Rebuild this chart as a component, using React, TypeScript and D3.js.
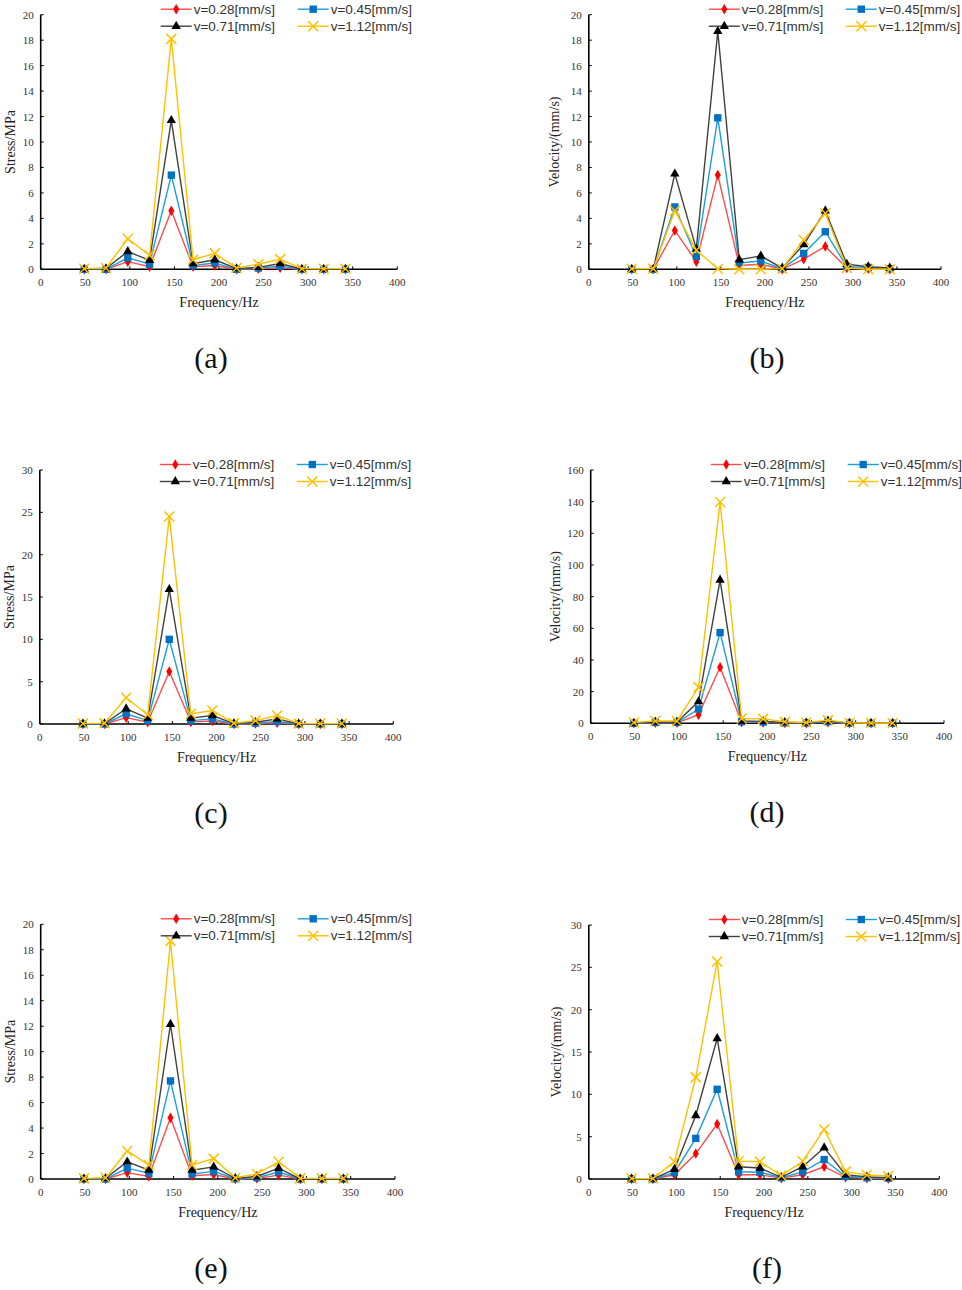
import React, { useEffect, useRef } from 'react';
import * as d3 from 'd3';

// spectrum bins (Hz)
const frequencies: number[] = [48.8, 73.2, 97.7, 122.1, 146.5, 170.9, 195.3, 219.7, 244.1, 268.6, 293.0, 317.4, 341.8];
const seriesLabels: string[] = ['v=0.28[mm/s]', 'v=0.45[mm/s]', 'v=0.71[mm/s]', 'v=1.12[mm/s]'];
const xTicks: number[] = [0, 50, 100, 150, 200, 250, 300, 350, 400];

// (a) stress
const a028 = [0, 0, 0.6, 0.2, 4.6, 0.2, 0.3, 0, 0.05, 0.12, 0, 0, 0];
const a045 = [0, 0, 0.9, 0.4, 7.4, 0.3, 0.5, 0, 0.1, 0.25, 0, 0, 0];
const a071 = [0, 0.05, 1.4, 0.7, 11.7, 0.45, 0.75, 0.05, 0.15, 0.45, 0, 0, 0];
const a112 = [0.05, 0.1, 2.4, 1.1, 18.1, 0.75, 1.25, 0.1, 0.4, 0.8, 0.05, 0.05, 0.05];

// (b) velocity
const b028 = [0, 0, 3.05, 0.6, 7.4, 0.3, 0.4, 0, 0.8, 1.8, 0.1, 0.05, 0];
const b045 = [0, 0, 4.9, 1.0, 11.9, 0.5, 0.65, 0.05, 1.25, 2.95, 0.2, 0.15, 0.05];
const b071 = [0, 0, 7.5, 1.6, 18.7, 0.75, 1.05, 0.1, 1.95, 4.6, 0.4, 0.2, 0.1];
const b112 = [0.05, 0.05, 4.6, 1.5, 0.05, 0, 0, 0.05, 2.3, 4.4, 0.1, 0, 0];

// (c) stress
const c028 = [0, 0, 0.75, 0.2, 6.2, 0.25, 0.35, 0, 0.05, 0.15, 0, 0, 0];
const c045 = [0, 0, 1.2, 0.4, 10.0, 0.4, 0.6, 0, 0.1, 0.3, 0, 0, 0];
const c071 = [0, 0.05, 1.8, 0.7, 15.9, 0.7, 1.0, 0.05, 0.2, 0.6, 0, 0, 0];
const c112 = [0.05, 0.1, 3.1, 1.1, 24.5, 1.2, 1.6, 0.1, 0.4, 1.0, 0.05, 0.05, 0.05];

// (d) velocity
const d028 = [0, 0.3, 0.3, 5.4, 35.4, 0.6, 0.5, 0.2, 0.1, 0.6, 0, 0, 0];
const d045 = [0, 0.5, 0.5, 9.0, 57.3, 1.0, 0.8, 0.3, 0.2, 1.0, 0.05, 0, 0];
const d071 = [0, 0.8, 0.8, 13.7, 90.5, 1.5, 1.2, 0.5, 0.3, 1.5, 0.1, 0, 0];
const d112 = [0.5, 1.5, 1.5, 22.7, 139.8, 3.0, 2.8, 1.0, 0.5, 2.0, 0.3, 0.2, 0.2];

// (e) stress
const e028 = [0, 0, 0.5, 0.2, 4.8, 0.25, 0.35, 0, 0.05, 0.3, 0, 0, 0];
const e045 = [0, 0, 0.85, 0.45, 7.7, 0.4, 0.6, 0.02, 0.1, 0.55, 0, 0, 0];
const e071 = [0, 0.05, 1.35, 0.7, 12.15, 0.7, 0.95, 0.05, 0.2, 0.85, 0, 0, 0];
const e112 = [0.05, 0.1, 2.2, 1.1, 18.7, 1.1, 1.6, 0.1, 0.4, 1.35, 0.05, 0.05, 0.05];

// (f) velocity
const f028 = [0, 0, 0.5, 3.0, 6.5, 0.5, 0.5, 0.1, 0.5, 1.45, 0.2, 0.1, 0.05];
const f045 = [0, 0, 0.75, 4.8, 10.6, 0.85, 0.8, 0.15, 0.85, 2.3, 0.3, 0.15, 0.1];
const f071 = [0, 0, 1.15, 7.5, 16.6, 1.45, 1.3, 0.2, 1.45, 3.7, 0.5, 0.25, 0.15];
const f112 = [0.05, 0.05, 2.05, 12.0, 25.7, 2.1, 2.05, 0.4, 2.1, 5.85, 0.87, 0.47, 0.35];

const lineColors = ['#ff4b4b', '#1aa0dc', '#404040', '#ffc000'];
const markerColors = ['#ff0000', '#0070c0', '#000000', '#ffc000'];
const markerKinds = ['diamond', 'square', 'triangle', 'x'];

type Panel = {
    x0: number; x1: number; yTop: number; yBot: number;
    yMax: number; yStep: number; title: string; titleDx: number;
    caption: string; capX: number; series: number[][];
};

const panels: Panel[] = [
    { x0: 40.7, x1: 397.3, yTop: 14.7, yBot: 269.3, yMax: 20, yStep: 2, title: 'Stress/MPa', titleDx: 31, caption: '(a)', capX: 211, series: [a028, a045, a071, a112] },
    { x0: 588.8, x1: 941, yTop: 14.7, yBot: 269.3, yMax: 20, yStep: 2, title: 'Velocity/(mm/s)', titleDx: 35, caption: '(b)', capX: 767, series: [b028, b045, b071, b112] },
    { x0: 39.8, x1: 393.3, yTop: 470, yBot: 724, yMax: 30, yStep: 5, title: 'Stress/MPa', titleDx: 31, caption: '(c)', capX: 211, series: [c028, c045, c071, c112] },
    { x0: 590.7, x1: 944, yTop: 470, yBot: 723.3, yMax: 160, yStep: 20, title: 'Velocity/(mm/s)', titleDx: 36, caption: '(d)', capX: 767, series: [d028, d045, d071, d112] },
    { x0: 40.7, x1: 395, yTop: 924.3, yBot: 1179, yMax: 20, yStep: 2, title: 'Stress/MPa', titleDx: 31, caption: '(e)', capX: 211, series: [e028, e045, e071, e112] },
    { x0: 588.8, x1: 939.3, yTop: 925, yBot: 1179, yMax: 30, yStep: 5, title: 'Velocity/(mm/s)', titleDx: 33, caption: '(f)', capX: 767, series: [f028, f045, f071, f112] },
];

const serif = "'Liberation Serif', 'Times New Roman', serif";
const sans = "'Liberation Sans', Arial, sans-serif";

const drawMarker = (
    g: d3.Selection<SVGGElement, unknown, null, undefined>,
    kind: string,
    color: string,
    x: number,
    y: number
) => {
    if (kind === 'x') {
        const r = 5;
        g.append('path')
            .attr('d', `M${x - r},${y - r}L${x + r},${y + r}M${x - r},${y + r}L${x + r},${y - r}`)
            .attr('stroke', color)
            .attr('stroke-width', 1.5)
            .attr('fill', 'none');
        return;
    }
    const type = kind === 'diamond' ? d3.symbolDiamond : kind === 'square' ? d3.symbolSquare : d3.symbolTriangle;
    const size = kind === 'diamond' ? 32 : kind === 'square' ? 54 : 38;
    g.append('path')
        .attr('d', d3.symbol().type(type).size(size)()!)
        .attr('transform', `translate(${x},${y})`)
        .attr('fill', color);
};

const App: React.FC = () => {
    const svgRef = useRef<SVGSVGElement | null>(null);

    useEffect(() => {
        const svgEl = svgRef.current;
        if (!svgEl) return;
        const svg = d3.select(svgEl);
        svg.selectAll('*').remove();

        panels.forEach((p) => {
            const g = svg.append('g');
            const x = d3.scaleLinear().domain([0, 400]).range([p.x0, p.x1]);
            const y = d3.scaleLinear().domain([0, p.yMax]).range([p.yBot, p.yTop]);
            const yTicks = d3.range(0, p.yMax + p.yStep / 2, p.yStep);

            // y axis
            g.append('line')
                .attr('x1', p.x0).attr('x2', p.x0)
                .attr('y1', y(0)).attr('y2', y(p.yMax))
                .attr('stroke', '#000').attr('stroke-width', 1.6);
            g.selectAll('.ytick')
                .data(yTicks)
                .enter()
                .append('line')
                .attr('x1', p.x0).attr('x2', p.x0 + 3)
                .attr('y1', (d) => y(d)).attr('y2', (d) => y(d))
                .attr('stroke', '#000').attr('stroke-width', 1);
            g.selectAll('.ylab')
                .data(yTicks)
                .enter()
                .append('text')
                .attr('x', p.x0 - 7)
                .attr('y', (d) => y(d) + 4)
                .attr('text-anchor', 'end')
                .style('font-family', serif)
                .style('font-size', '11px')
                .style('fill', '#333')
                .text((d) => d);

            // x axis
            g.append('line')
                .attr('x1', x(0)).attr('x2', x(400))
                .attr('y1', p.yBot).attr('y2', p.yBot)
                .attr('stroke', '#000').attr('stroke-width', 1.6);
            g.selectAll('.xtick')
                .data(xTicks)
                .enter()
                .append('line')
                .attr('x1', (d) => x(d)).attr('x2', (d) => x(d))
                .attr('y1', p.yBot).attr('y2', p.yBot - 3)
                .attr('stroke', '#000').attr('stroke-width', 1);
            g.selectAll('.xlab')
                .data(xTicks)
                .enter()
                .append('text')
                .attr('x', (d) => x(d))
                .attr('y', p.yBot + 17)
                .attr('text-anchor', 'middle')
                .style('font-family', serif)
                .style('font-size', '11px')
                .style('fill', '#333')
                .text((d) => d);

            // titles
            g.append('text')
                .attr('x', (p.x0 + p.x1) / 2)
                .attr('y', p.yBot + 38)
                .attr('text-anchor', 'middle')
                .style('font-family', serif)
                .style('font-size', '14px')
                .style('fill', '#222')
                .text('Frequency/Hz');
            const cy = (p.yTop + p.yBot) / 2;
            g.append('text')
                .attr('transform', `translate(${p.x0 - p.titleDx + 5},${cy}) rotate(-90)`)
                .attr('text-anchor', 'middle')
                .style('font-family', serif)
                .style('font-size', '14px')
                .style('fill', '#222')
                .text(p.title);

            // series
            const line = d3.line<number>()
                .x((_, i) => x(frequencies[i]))
                .y((d) => y(d));
            p.series.forEach((vals, s) => {
                g.append('path')
                    .datum(vals)
                    .attr('d', line)
                    .attr('fill', 'none')
                    .attr('stroke', lineColors[s])
                    .attr('stroke-width', 1.4);
                vals.forEach((v, i) => drawMarker(g, markerKinds[s], markerColors[s], x(frequencies[i]), y(v)));
            });

            // legend
            const rowY = [p.yTop - 5.5, p.yTop + 11.5];
            const colX = [p.x0 + 120, p.x0 + 257];
            seriesLabels.forEach((label, s) => {
                const lx = colX[s % 2];
                const ly = rowY[Math.floor(s / 2)];
                g.append('line')
                    .attr('x1', lx).attr('x2', lx + 31)
                    .attr('y1', ly).attr('y2', ly)
                    .attr('stroke', lineColors[s]).attr('stroke-width', 1.4);
                drawMarker(g, markerKinds[s], markerColors[s], lx + 15.5, ly);
                g.append('text')
                    .attr('x', lx + 33)
                    .attr('y', ly + 4.6)
                    .style('font-family', sans)
                    .style('font-size', '13.5px')
                    .style('fill', '#333')
                    .text(label);
            });

            // caption
            g.append('text')
                .attr('x', p.capX)
                .attr('y', p.yBot + 99)
                .attr('text-anchor', 'middle')
                .style('font-family', serif)
                .style('font-size', '30px')
                .style('fill', '#111')
                .text(p.caption);
        });
    }, []);

    return (
        <svg
            ref={svgRef}
            width={962}
            height={1290}
            style={{ position: 'absolute', left: 0, top: 0, background: '#fff' }}
        />
    );
};

export default App;
